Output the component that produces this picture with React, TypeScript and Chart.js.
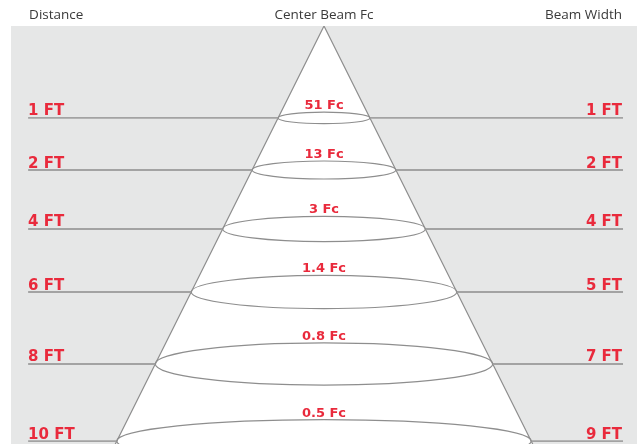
import React, { useEffect, useRef } from "react";
import { Chart, registerables } from "chart.js";

Chart.register(...registerables);

// Row labels and values
const distances = ["1 FT", "2 FT", "4 FT", "6 FT", "8 FT", "10 FT"];
const centerFc = ["51 Fc", "13 Fc", "3 Fc", "1.4 Fc", "0.8 Fc", "0.5 Fc"];
const beamWidths = ["1 FT", "2 FT", "4 FT", "5 FT", "7 FT", "9 FT"];
// depth of each row in the (illustrative) cone diagram, in cone units
const rowDepth = [2.2, 3.445, 4.856, 6.364, 8.086, 9.93];

const headers = ["Distance", "Center Beam Fc", "Beam Width"];

const X_MIN = -15;
const X_MAX = 15;
const Y_MAX = 10;
const LINE_LEFT = -14.18;
const LINE_RIGHT = 14.33;
const CONE_END = 10.6;

const RED = "#e92a3c";
const GRAY_BG = "#e6e7e7";
const LINE = "#a3a3a3";
const CONE = "#8e8e8e";

export default function App() {
  const ref = useRef<HTMLCanvasElement | null>(null);

  useEffect(() => {
    const canvas = ref.current;
    if (!canvas) return;

    const bgPlugin = {
      id: "bgPlugin",
      beforeDatasetsDraw(chart: any) {
        const { ctx, chartArea } = chart;
        ctx.save();
        ctx.fillStyle = GRAY_BG;
        ctx.fillRect(chartArea.left, chartArea.top, chartArea.right - chartArea.left, chartArea.bottom - chartArea.top);
        ctx.restore();
      },
    };

    const ryOf = (rxPx: number) => Math.min(rxPx * 0.125, 21.5);

    const ellipsePlugin = {
      id: "ellipsePlugin",
      afterDatasetsDraw(chart: any) {
        const { ctx, chartArea, scales } = chart;
        const xs = scales.x;
        const ys = scales.y;
        ctx.save();
        ctx.beginPath();
        ctx.rect(chartArea.left, chartArea.top, chartArea.right - chartArea.left, chartArea.bottom - chartArea.top);
        ctx.clip();
        rowDepth.forEach((d, i) => {
          const cx = xs.getPixelForValue(0);
          const cy = ys.getPixelForValue(d);
          const rx = xs.getPixelForValue(d) - cx;
          const ry = ryOf(rx);
          ctx.beginPath();
          ctx.ellipse(cx, cy, rx, ry, 0, 0, Math.PI * 2);
          ctx.strokeStyle = CONE;
          ctx.lineWidth = 1.2;
          ctx.stroke();

          // center Fc label
          ctx.fillStyle = RED;
          ctx.font = "bold 13px 'DejaVu Sans'";
          ctx.textAlign = "center";
          ctx.textBaseline = "alphabetic";
          ctx.fillText(centerFc[i], cx, cy - ry - 3);

          // distance + beam width labels
          ctx.font = "bold 15px 'DejaVu Sans'";
          ctx.textAlign = "left";
          ctx.fillText(distances[i], xs.getPixelForValue(LINE_LEFT), cy - 2.5);
          ctx.textAlign = "right";
          ctx.fillText(beamWidths[i], xs.getPixelForValue(LINE_RIGHT) - 1, cy - 2.5);
        });
        ctx.restore();
      },
      afterDraw(chart: any) {
        const { ctx, scales } = chart;
        const xs = scales.x;
        ctx.save();
        ctx.fillStyle = "#3a3a3a";
        ctx.font = "13.5px 'Open Sans'";
        ctx.textBaseline = "alphabetic";
        ctx.textAlign = "left";
        ctx.fillText(headers[0], xs.getPixelForValue(LINE_LEFT) + 1, 19);
        ctx.textAlign = "center";
        ctx.fillText(headers[1], xs.getPixelForValue(0), 19);
        ctx.textAlign = "right";
        ctx.fillText(headers[2], xs.getPixelForValue(LINE_RIGHT) - 1, 19);
        ctx.restore();
      },
    };

    const datasets: any[] = [
      {
        label: "cone",
        data: [
          { x: -CONE_END, y: CONE_END },
          { x: 0, y: 0 },
          { x: CONE_END, y: CONE_END },
        ],
        borderColor: CONE,
        borderWidth: 1.2,
        backgroundColor: "#ffffff",
        fill: "shape",
        pointRadius: 0,
        tension: 0,
        order: 10,
      },
    ];
    rowDepth.forEach((d) => {
      datasets.push({
        label: "left",
        data: [
          { x: LINE_LEFT, y: d },
          { x: -d, y: d },
        ],
        borderColor: LINE,
        borderWidth: 1.8,
        pointRadius: 0,
        fill: false,
        order: 1,
      });
      datasets.push({
        label: "right",
        data: [
          { x: d, y: d },
          { x: LINE_RIGHT, y: d },
        ],
        borderColor: LINE,
        borderWidth: 1.8,
        pointRadius: 0,
        fill: false,
        order: 1,
      });
    });

    const chart = new Chart(canvas, {
      type: "line",
      data: { datasets },
      options: {
        animation: false,
        responsive: false,
        devicePixelRatio: 1,
        layout: { padding: { left: 11, right: 5, top: 26, bottom: 0 } },
        plugins: {
          legend: { display: false },
          tooltip: { enabled: false },
        },
        scales: {
          x: { type: "linear", min: X_MIN, max: X_MAX, display: false },
          y: { type: "linear", min: 0, max: Y_MAX, reverse: true, display: false },
        },
      },
      plugins: [bgPlugin, ellipsePlugin],
    });

    return () => chart.destroy();
  }, []);

  return (
    <div style={{ position: "fixed", left: 0, top: 0, width: 642, height: 444, background: "#fff" }}>
      <canvas ref={ref} width={642} height={444} style={{ display: "block" }} />
    </div>
  );
}
